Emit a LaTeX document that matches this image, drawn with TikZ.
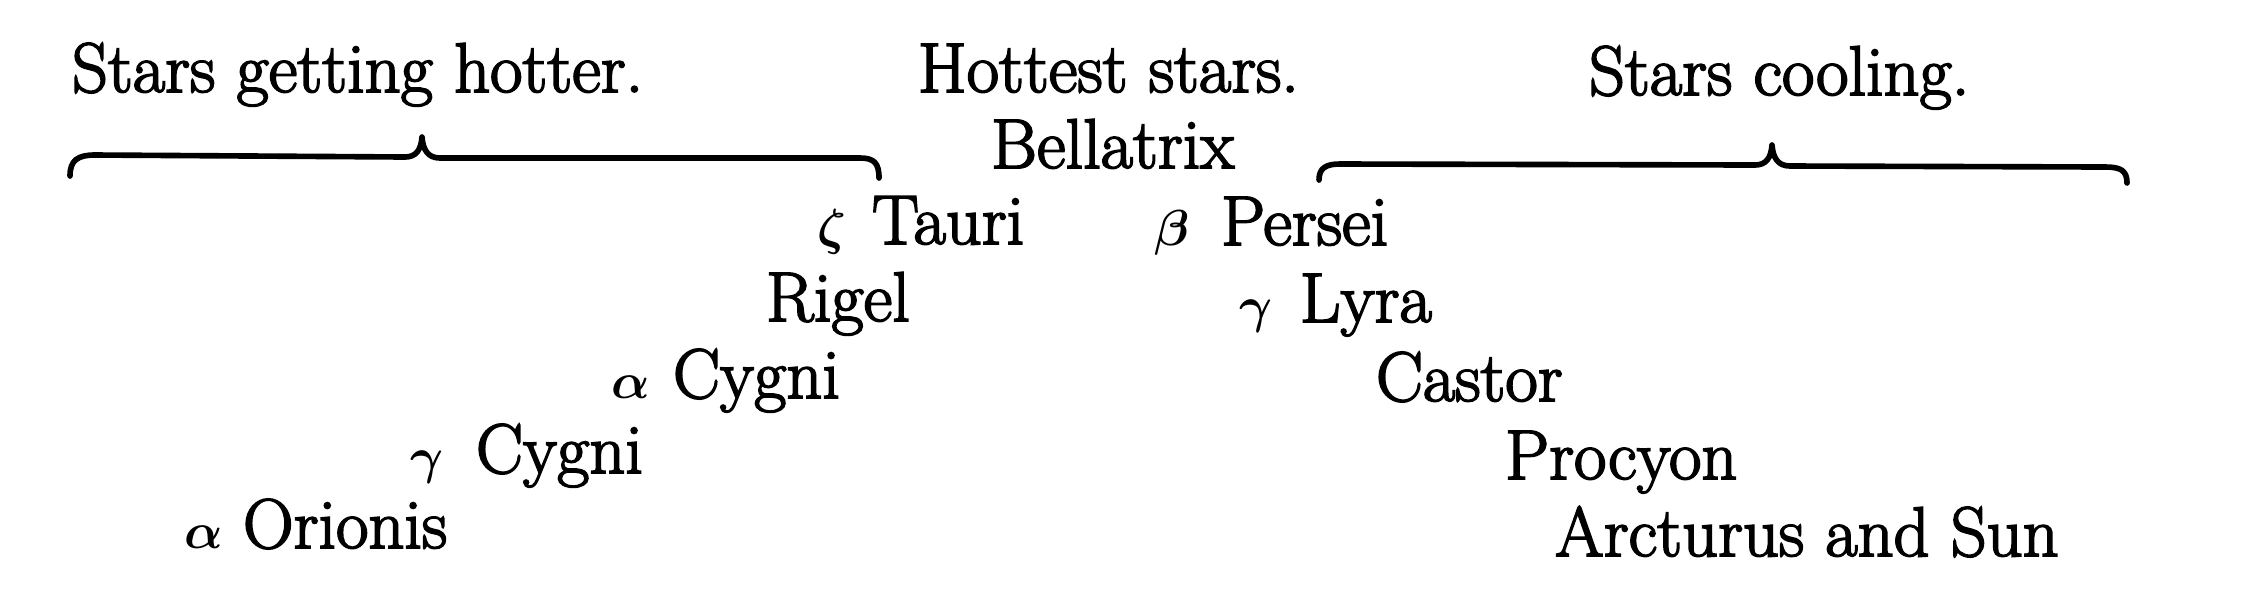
\documentclass[tikz,border=0pt]{standalone}
\usepackage{amsmath}
\usepackage{fontspec}
\newfontfamily\heavyrm{Latin Modern Roman}[FakeBold=2.5]
\begin{document}
\begin{tikzpicture}[x=0.01cm,y=-0.01cm,
  lbl/.style={anchor=base west,inner sep=0pt,outer sep=0pt,font=\heavyrm\fontsize{20}{22}\selectfont},
  grk/.style={anchor=base west,inner sep=0pt,outer sep=0pt,font=\fontsize{14.5}{16}\selectfont},
  bracestroke/.style={line width=1.6pt,line cap=round,line join=round}]
\useasboundingbox[fill=white] (0,0) rectangle (2245,605);
% headings
\node[lbl] (hot) at (72,92) {Stars getting hotter.};
\node[lbl] (hottest) at (918,92) {Hottest stars.};
\node[lbl] (cool) at (1589,95) {Stars cooling.};
\node[lbl] (bell) at (991,168) {Bellatrix};
% left branch
\node[grk] (ztauG) at (817,244) {$\boldsymbol{\zeta}$};
\node[lbl] (ztau) at (872,244) {Tauri};
\node[lbl] (rigel) at (766,321) {Rigel};
\node[grk] (acygG) at (611,398) {$\boldsymbol{\alpha}$};
\node[lbl] (acyg) at (673,398) {Cygni};
\node[grk] (gcygG) at (410,473) {$\boldsymbol{\gamma}$};
\node[lbl] (gcyg) at (476,473) {Cygni};
\node[grk] (aoriG) at (184,548) {$\boldsymbol{\alpha}$};
\node[lbl] (aori) at (243,548) {Orionis};
% right branch
\node[grk] (bperG) at (1154,245) {$\boldsymbol{\beta}$};
\node[lbl] (bper) at (1221,245) {Persei};
\node[grk] (glyrG) at (1239,322) {$\boldsymbol{\gamma}$};
\node[lbl] (glyr) at (1300,322) {Lyra};
\node[lbl] (cast) at (1376,401) {Castor};
\node[lbl] (proc) at (1505,479) {Procyon};
\node[lbl] (arct) at (1555,556) {Arcturus and Sun};
% braces
\coordinate (lb1) at (70,176);
\coordinate (lbp) at (422,137);
\coordinate (lb2) at (879,178);
\draw[bracestroke] (lb1) .. controls (70,160) and (78,155) .. (95,155)
  -- (405,157) .. controls (416,157) and (421,150) .. (lbp)
  .. controls (423,150) and (428,158) .. (440,158)
  -- (860,158) .. controls (874,158) and (879,163) .. (lb2);
\coordinate (rb1) at (1319,180);
\coordinate (rbp) at (1772,145);
\coordinate (rb2) at (2127,183);
\draw[bracestroke] (rb1) .. controls (1319,168) and (1326,164) .. (1340,164)
  -- (1755,165) .. controls (1766,165) and (1771,158) .. (rbp)
  .. controls (1773,158) and (1778,166) .. (1790,166)
  -- (2105,167) .. controls (2120,167) and (2127,170) .. (rb2);
\end{tikzpicture}
\end{document}
